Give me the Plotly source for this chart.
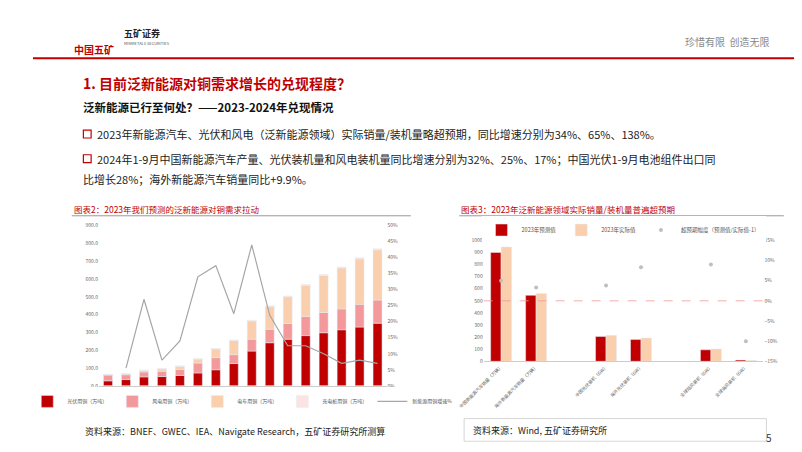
import plotly.graph_objects as go

# left chart: copper demand by segment (万吨)
years = ['2015', '2016', '2017', '2018', '2019', '2020', '2021', '2022', '2023',
         '2024E', '2025E', '2026E', '2027E', '2028E', '2029E', '2030E']
pv = [28, 35, 50, 52, 58, 72, 90, 125, 195, 242, 262, 282, 298, 315, 330, 352]
wind = [32, 27, 28, 30, 34, 56, 68, 50, 67, 76, 88, 108, 114, 117, 128, 130]
ev = [4, 5, 9, 13, 18, 22, 49, 80, 102, 128, 150, 175, 207, 230, 255, 282]
pile = [1, 1, 1, 2, 2, 2, 3, 3, 4, 4, 5, 5, 6, 6, 7, 6]
growth = [None, 5.5, 27, 8, 14, 34, 37.5, 22.5, 44, 22, 12.5, 12.5, 10, 7, 8, 7]

# right chart: 2023 forecast vs actual
cats = ['中国新能源汽车销量（万辆）', '海外新能源汽车销量（万辆）', ' ',
        '中国光伏装机（GW）', '海外光伏装机（GW）', '  ',
        '全球陆风装机（GW）', '全球海风装机（GW）']
pred = [900, 545, None, 205, 180, None, 95, 10]
actual = [945, 560, None, 215, 192, None, 102, 8]
beat = [5, 3.3, None, 3.8, 8.3, None, 9, -10]

RED = '#c00000'
fig = go.Figure()
f6 = dict(size=5, color='#666')

# stacked by hand so the right chart can use grouped bars
b1 = pv
b2 = [a + b for a, b in zip(b1, wind)]
b3 = [a + b for a, b in zip(b2, ev)]
stack = [(pv, None, '光伏用铜（万吨）', RED), (wind, b1, '风电用铜（万吨）', '#f4999b'),
         (ev, b2, '电车用铜（万吨）', '#f9cfae'), (pile, b3, '充电桩用铜（万吨）', '#fbe3e3')]
for vals, base, name, col in stack:
    fig.add_trace(go.Bar(x=years, y=vals, base=base, name=name, marker_color=col,
                         offsetgroup='s', width=0.5, legend='legend'))
fig.add_trace(go.Scatter(x=years, y=growth, name='新能源用铜增速%', mode='lines',
                         line=dict(color='#a6a6a6', width=1.2), yaxis='y2', legend='legend'))

fig.add_trace(go.Bar(x=cats, y=pred, name='2023年预测值', marker_color=RED,
                     xaxis='x3', yaxis='y3', legend='legend2', width=0.3, offset=-0.3))
fig.add_trace(go.Bar(x=cats, y=actual, name='2023年实际值', marker_color='#f9cfae',
                     xaxis='x3', yaxis='y3', legend='legend2', width=0.3, offset=0))
fig.add_trace(go.Scatter(x=cats, y=beat, name='超预期幅度（预测值/实际值-1）', mode='markers',
                         marker=dict(color='#bfbfbf', size=4), xaxis='x3', yaxis='y4', legend='legend2'))

fig.update_layout(
    width=802, height=452, margin=dict(l=0, r=0, t=0, b=0),
    paper_bgcolor='white', plot_bgcolor='white', barmode='group',
    font=dict(family='Noto Sans CJK SC', color='#222'),
    xaxis=dict(domain=[0.085, 0.455], anchor='y', tickfont=f6, showline=True, linecolor='#ccc'),
    yaxis=dict(domain=[0.16, 0.52], range=[0, 900], dtick=100, tickformat='.1f', tickfont=f6,
               showgrid=False),
    yaxis2=dict(overlaying='y', side='right', range=[0, 50], dtick=5, ticksuffix='%',
                tickfont=f6, showgrid=False, anchor='x'),
    xaxis3=dict(domain=[0.58, 0.94], anchor='y3', tickfont=dict(size=4.5, color='#666'),
                tickangle=-45, showline=True, linecolor='#ccc'),
    yaxis3=dict(domain=[0.215, 0.487], range=[0, 1000], dtick=100, tickfont=f6,
                showgrid=False, anchor='x3'),
    yaxis4=dict(overlaying='y3', side='right', range=[-15, 15], dtick=5, ticksuffix='%',
                tickfont=f6, showgrid=False, zeroline=False, anchor='x3'),
    legend=dict(orientation='h', x=0.27, y=0.125, xanchor='center', yanchor='middle',
                font=dict(size=5, color='#555'), itemwidth=30, traceorder='normal'),
    legend2=dict(orientation='h', x=0.76, y=0.51, xanchor='center', yanchor='middle',
                 font=dict(size=5.5, color='#555'), itemwidth=30, traceorder='normal'),
)
fig.add_shape(type='line', xref='x3 domain', yref='y4', x0=0, x1=1, y0=0, y1=0,
              line=dict(color='#f4999b', width=0.8, dash='dash'))

# slide decoration
shapes = [
    dict(type='line', x0=0, x1=802, y0=47, y1=47, line=dict(color=RED, width=2)),
    dict(type='rect', x0=52, x1=60, y0=120, y1=128, line=dict(color=RED, width=1.2)),
    dict(type='rect', x0=52, x1=60, y0=145, y1=153, line=dict(color=RED, width=1.2)),
    dict(type='line', x0=40, x1=390, y0=207, y1=207, line=dict(color='#999', width=1)),
    dict(type='line', x0=440, x1=775, y0=207, y1=207, line=dict(color='#999', width=1)),
    dict(type='rect', x0=445, x1=757, y0=413, y1=436, line=dict(color='#ccc', width=0.8)),
]
for s in shapes:
    s.update(xref='paper', yref='paper')
    s['x0'] /= 802; s['x1'] /= 802
    s['y0'] = 1 - s['y0'] / 452; s['y1'] = 1 - s['y1'] / 452
    fig.add_shape(**s)

def txt(x, y, t, size, color='#222', anchor='left', bold=False):
    fig.add_annotation(x=x / 802, y=1 - y / 452, xref='paper', yref='paper', text=f'<b>{t}</b>' if bold else t,
                       showarrow=False, xanchor=anchor, yanchor='middle', font=dict(size=size, color=color))

txt(40, 38, '中国五矿', 10, RED, bold=True)
txt(92, 22, '五矿证券', 9, '#222', bold=True)
txt(92, 31, 'MINMETALS SECURITIES', 4, '#555')
txt(762, 30, '珍惜有限  创造无限', 10, '#888', anchor='right')
txt(50, 72, '1. 目前泛新能源对铜需求增长的兑现程度？', 14, RED, bold=True)
txt(50, 97, '泛新能源已行至何处？——2023-2024年兑现情况', 11.5, '#111', bold=True)
txt(64, 124, '2023年新能源汽车、光伏和风电（泛新能源领域）实际销量/装机量略超预期，同比增速分别为34%、65%、138%。', 11)
txt(64, 149, '2024年1-9月中国新能源汽车产量、光伏装机量和风电装机量同比增速分别为32%、25%、17%；中国光伏1-9月电池组件出口同', 11)
txt(50, 170, '比增长28%；海外新能源汽车销量同比+9.9%。', 11)
txt(40, 200, '图表2：2023年我们预测的泛新能源对铜需求拉动', 8.5, RED)
txt(440, 200, '图表3：2023年泛新能源领域实际销量/装机量普遍超预期', 8.5, RED)
txt(52, 426, '资料来源：BNEF、GWEC、IEA、Navigate Research，五矿证券研究所测算', 9)
txt(452, 425, '资料来源：Wind, 五矿证券研究所', 9)
txt(755, 432, '5', 10, '#333')

fig.write_html('out.html')
